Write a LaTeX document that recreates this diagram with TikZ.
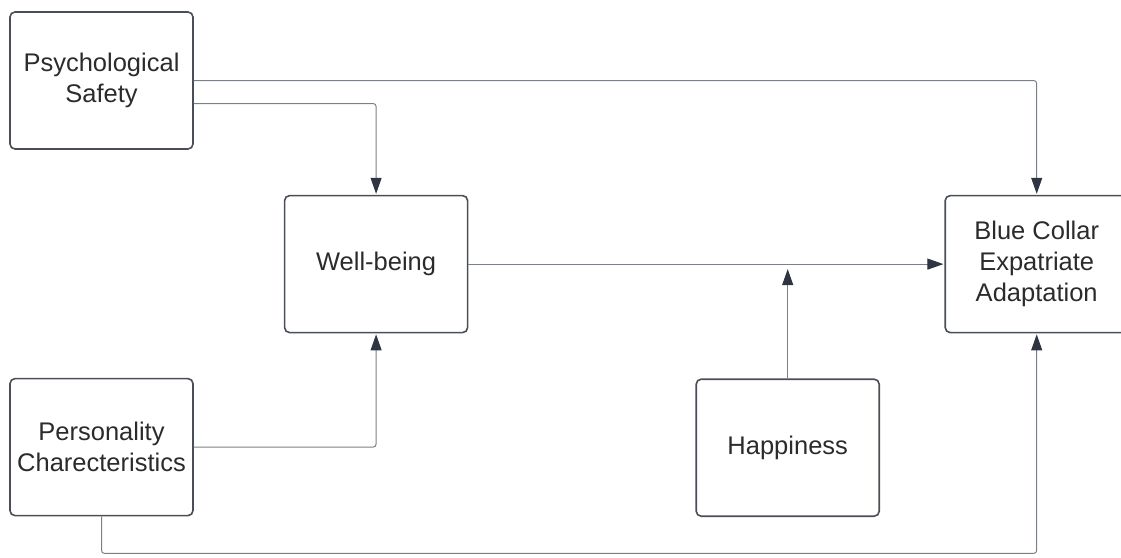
\documentclass[tikz,border=0pt]{standalone}
\usepackage{fontspec}
\setmainfont{Liberation Sans}
\usepackage{tikz}
\usetikzlibrary{positioning,arrows.meta,calc}
\definecolor{cEdge}{HTML}{4a4e56}
\definecolor{cLine}{HTML}{7b7f86}
\definecolor{cTip} {HTML}{2e3440}
\definecolor{cText}{HTML}{2b2b2b}
\tikzset{
  blk/.style={rounded corners=5pt,draw=cEdge,line width=1.6pt,align=center,
              minimum width=183pt,minimum height=137pt,inner sep=0pt,
              text=cText,font=\fontsize{25.5}{31}\selectfont},
  lnk/.style={line width=1pt,cLine,rounded corners=3pt},
  arw/.style={lnk,-{Triangle[length=16pt,width=11pt,color=cTip]},shorten >=1pt},
}
\begin{document}
\begin{tikzpicture}
  \useasboundingbox (0,0) rectangle (1121pt,-557pt);
  \node[blk] (psy) at (101.5pt,-80.5pt) {Psychological\\Safety};
  \node[blk,below right=45pt and 90pt of psy] (wb) {Well-being};
  \node[blk,below=228pt of psy] (per) {Personality\\Charecteristics};
  \node[blk,below right=45pt and 227pt of wb] (hap) {Happiness};
  \node[blk,right=476pt of wb] (bc) {Blue Collar\\Expatriate\\Adaptation};
  % paths into the outcome
  \draw[arw] (psy.east) -| (bc.north);
  \draw[arw] ($(psy.east)+(0,-23pt)$) -| (wb.north);
  \draw[arw] (per.east) -| (wb.south);
  \draw[arw] (wb.east) -- (bc.west);
  \coordinate (mod) at ($(hap.north |- wb.east)+(0,-4pt)$);
  \draw[arw] (hap.north) -- (mod);
  \coordinate (low) at ($(per.south)+(0,-37pt)$);
  \draw[arw] (per.south) -- (low) -| (bc.south);
\end{tikzpicture}
\end{document}
